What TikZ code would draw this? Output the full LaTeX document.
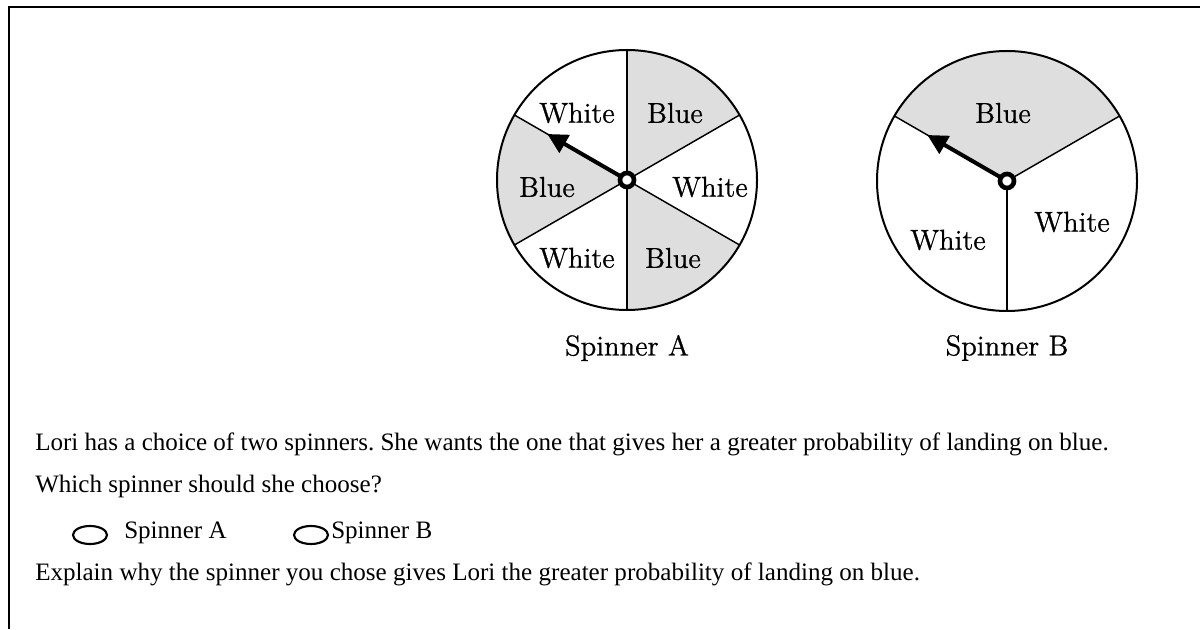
\documentclass[tikz,border=0pt]{standalone}
\usepackage{fontspec}
\newfontfamily\qfont{Liberation Serif}
\newfontfamily\lblfont[FakeBold=0.8]{lmroman12-regular.otf}
\usetikzlibrary{arrows.meta}
\frenchspacing

\begin{document}
\begin{tikzpicture}[x=0.75pt, y=0.75pt,
	pointer/.style={line width=3pt, -{Triangle[length=15pt,width=15pt]}},
	slice/.style={fill=black!13},
	lbl/.style={font=\lblfont\fontsize{21.5}{24}\selectfont},
	qtext/.style={anchor=west, inner sep=0pt, font=\qfont\fontsize{18.8}{22}\selectfont}]
	\useasboundingbox (0,0) rectangle (1200,629);
	\draw[line width=2.2pt] (9,0) -- (9,622) -- (1200,622);
	\coordinate (ca) at (627,449);
	\coordinate (cb) at (1007,448);
	\foreach \a in {30,150,270}
		\fill[slice] (ca) -- ++(\a:130) arc[start angle=\a, end angle=\a+60, radius=130] -- cycle;
	\fill[slice] (cb) -- ++(30:130) arc[start angle=30, end angle=150, radius=130] -- cycle;
	\foreach \a in {30,90,...,330}
		\draw[line width=1.1pt] (ca) -- ++(\a:130);
	\foreach \a in {30,150,270}
		\draw[line width=1.1pt] (cb) -- ++(\a:130);
	\draw[line width=1.5pt] (ca) circle[radius=130];
	\draw[line width=1.5pt] (cb) circle[radius=130];
	\node[lbl] (aw1) at (577,516) {White};
	\node[lbl] (ab1) at (675,516) {Blue};
	\node[lbl] (ab2) at (547,442) {Blue};
	\node[lbl] (aw2) at (710,442) {White};
	\node[lbl] (aw3) at (577,371) {White};
	\node[lbl] (ab3) at (673,371) {Blue};
	\node[lbl] (bb1) at (1003,516) {Blue};
	\node[lbl] (bw1) at (1072,407) {White};
	\node[lbl] (bw2) at (948,389) {White};
	\draw[pointer] (ca) -- ++(150:92);
	\draw[pointer] (cb) -- ++(150:92);
	\draw[line width=3.5pt, fill=white] (ca) circle[radius=7];
	\draw[line width=3.5pt, fill=white] (cb) circle[radius=7];
	\node[lbl] (namea) at (627,281) {Spinner A};
	\node[lbl] (nameb) at (1007,281) {Spinner B};
	\node[qtext] (lori) at (35,185) {Lori has a choice of two spinners. She wants the one that gives her a greater probability of landing on blue.};
	\node[qtext] (which) at (35,143) {Which spinner should she choose?};
	\draw[line width=1.6pt] (90,94) ellipse[x radius=17, y radius=9];
	\node[qtext] (opta) at (124,96) {Spinner A};
	\draw[line width=1.6pt] (311,94) ellipse[x radius=17, y radius=9];
	\node[qtext] (optb) at (331,96) {Spinner B};
	\node[qtext] (explain) at (35,55) {Explain why the spinner you chose gives Lori the greater probability of landing on blue.};
\end{tikzpicture}
\end{document}
